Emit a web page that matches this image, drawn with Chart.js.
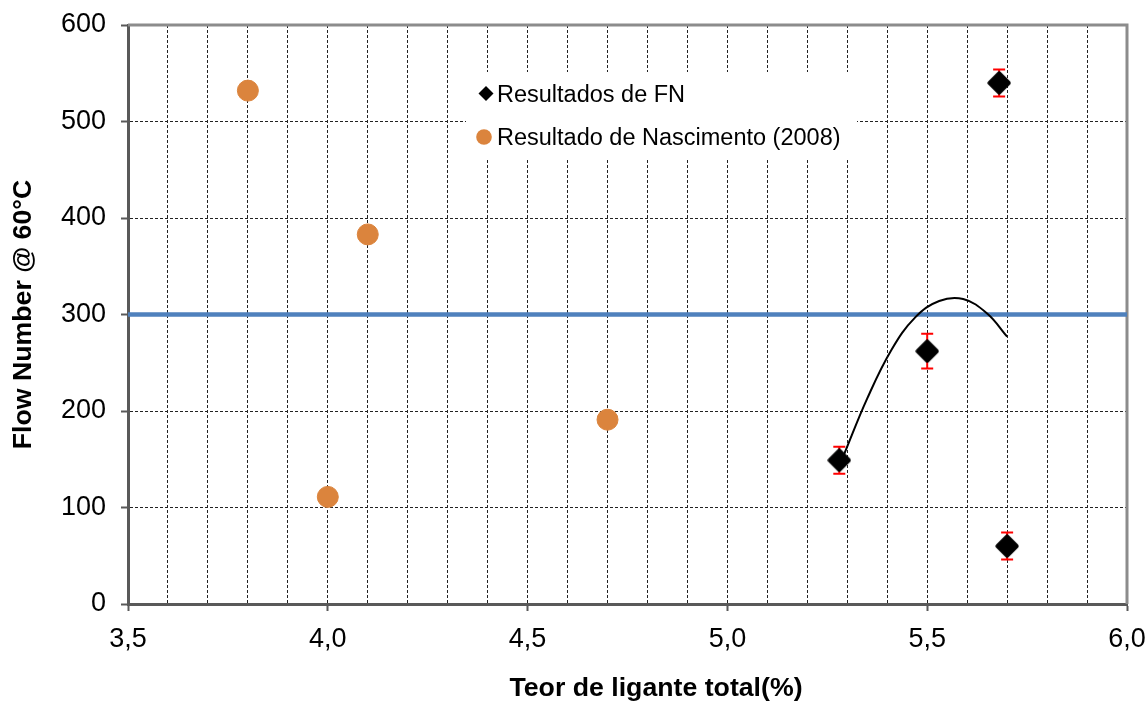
<!DOCTYPE html>
<html>
<head>
  <meta charset="utf-8">
  <title>Flow Number x Teor de ligante</title>
  <script src="https://cdn.jsdelivr.net/npm/chart.js"></script>
  <style>
    body { margin: 0; background: #fff; }
    #wrap { width: 1148px; height: 704px; }
  </style>
</head>
<body>
  <div id="wrap"><canvas id="fnChart" width="1148" height="704"></canvas></div>

  <script>
    // FN results (with error bars)
    const fnX = [5.28, 5.5, 5.68, 5.7];
    const fnY = [149, 262, 540, 60];
    const fnErr = [14, 18, 14, 14];

    // Nascimento (2008)
    const nascX = [3.8, 4.0, 4.1, 4.7];
    const nascY = [532, 111, 383, 191];

    // horizontal reference line at 300
    const limitX = [3.5, 6.0];
    const limitY = [300, 300];

    // trend curve
    const trendX = [5.29, 5.35, 5.41, 5.47, 5.53, 5.59, 5.65, 5.70];
    const trendY = [153, 213, 263, 297, 314, 316, 301, 277];

    const legendLabels = ['Resultados de FN', 'Resultado de Nascimento (2008)'];
    const xTitle = 'Teor de ligante total(%)';
    const yTitle = 'Flow Number @ 60°C';

    const FONT = "'Liberation Sans', Arial, sans-serif";
    const ORANGE = '#db843d';
    const AXIS = '#595959';

    const toPts = (xs, ys) => xs.map((x, i) => ({ x, y: ys[i] }));
    const isHalf = v => Math.abs(v * 2 - Math.round(v * 2)) < 1e-6;

    // rounded black diamond marker
    const diamond = document.createElement('canvas');
    diamond.width = 24; diamond.height = 24;
    (function () {
      const c = diamond.getContext('2d');
      c.fillStyle = '#000'; c.strokeStyle = '#000';
      c.lineWidth = 5; c.lineJoin = 'round';
      c.beginPath();
      c.moveTo(12, 3); c.lineTo(21, 12); c.lineTo(12, 21); c.lineTo(3, 12);
      c.closePath(); c.fill(); c.stroke();
    })();

    // red error bars, drawn under the markers
    const errorBars = {
      id: 'errorBars',
      beforeDatasetsDraw(chart) {
        const { ctx, scales: { x, y } } = chart;
        ctx.save();
        ctx.strokeStyle = '#ff0000';
        ctx.lineWidth = 2;
        fnX.forEach((v, i) => {
          const px = x.getPixelForValue(v);
          const top = y.getPixelForValue(fnY[i] + fnErr[i]);
          const bot = y.getPixelForValue(fnY[i] - fnErr[i]);
          ctx.beginPath();
          ctx.moveTo(px, top); ctx.lineTo(px, bot);
          ctx.moveTo(px - 6, top); ctx.lineTo(px + 6, top);
          ctx.moveTo(px - 6, bot); ctx.lineTo(px + 6, bot);
          ctx.stroke();
        });
        ctx.restore();
      }
    };

    // top/right frame of the plot area + x title
    const frame = {
      id: 'frame',
      beforeDatasetsDraw(chart) {
        const { ctx, chartArea: a } = chart;
        ctx.save();
        ctx.strokeStyle = '#8c8c8c';
        ctx.lineWidth = 3;
        ctx.beginPath();
        ctx.moveTo(a.left, a.top);
        ctx.lineTo(a.right, a.top);
        ctx.lineTo(a.right, a.bottom);
        ctx.stroke();
        ctx.fillStyle = '#000';
        ctx.font = 'bold 26.7px ' + FONT;
        ctx.textAlign = 'center';
        ctx.textBaseline = 'alphabetic';
        ctx.fillText(xTitle, 656, 696);
        ctx.restore();
      }
    };

    // legend box inside the plot
    const innerLegend = {
      id: 'innerLegend',
      afterDatasetsDraw(chart) {
        const { ctx } = chart;
        ctx.save();
        ctx.fillStyle = '#fff';
        ctx.fillRect(466, 72, 391, 88);
        ctx.fillStyle = '#000';
        ctx.beginPath();
        ctx.moveTo(486, 86); ctx.lineTo(493.5, 93.5); ctx.lineTo(486, 101); ctx.lineTo(478.5, 93.5);
        ctx.closePath(); ctx.fill();
        ctx.fillStyle = ORANGE;
        ctx.beginPath();
        ctx.arc(484, 137, 7.8, 0, Math.PI * 2);
        ctx.fill();
        ctx.fillStyle = '#000';
        ctx.font = '23.5px ' + FONT;
        ctx.textBaseline = 'alphabetic';
        ctx.fillText(legendLabels[0], 497, 102);
        ctx.fillText(legendLabels[1], 497, 145);
        ctx.restore();
      }
    };

    new Chart(document.getElementById('fnChart'), {
      data: {
        datasets: [
          {
            type: 'line',
            label: 'limite',
            data: toPts(limitX, limitY),
            borderColor: '#4f81bd',
            borderWidth: 4.5,
            pointRadius: 0,
            order: 4
          },
          {
            type: 'line',
            label: 'tendência',
            data: toPts(trendX, trendY),
            borderColor: '#000',
            borderWidth: 2,
            pointRadius: 0,
            tension: 0.4,
            order: 3
          },
          {
            type: 'scatter',
            label: legendLabels[1],
            data: toPts(nascX, nascY),
            backgroundColor: ORANGE,
            borderColor: ORANGE,
            pointRadius: 10.5,
            pointHoverRadius: 10.5,
            order: 2
          },
          {
            type: 'scatter',
            label: legendLabels[0],
            data: toPts(fnX, fnY),
            pointStyle: diamond,
            pointRadius: 11,
            order: 1
          }
        ]
      },
      options: {
        responsive: false,
        animation: false,
        devicePixelRatio: 1,
        layout: { padding: { left: 0, top: 25, right: 21, bottom: 0 } },
        plugins: {
          legend: { display: false },
          tooltip: { enabled: false }
        },
        scales: {
          x: {
            type: 'linear',
            min: 3.5,
            max: 6.0,
            afterFit(scale) {
              scale.height = 100;
              scale.paddingLeft = 0;
              scale.paddingRight = 0;
            },
            ticks: {
              stepSize: 0.1,
              autoSkip: false,
              maxRotation: 0,
              padding: 12,
              color: '#000',
              font: { family: FONT, size: 27 },
              callback: v => isHalf(v) ? v.toFixed(1).replace('.', ',') : ''
            },
            grid: {
              color: c => (c.index === 0 || c.index === 25) ? 'rgba(0,0,0,0)' : '#222',
              lineWidth: 1,
              tickLength: 7,
              tickWidth: 2,
              tickBorderDash: [],
              tickColor: c => (c.tick && isHalf(c.tick.value)) ? AXIS : 'rgba(0,0,0,0)'
            },
            border: { display: true, color: AXIS, width: 3, dash: [3, 2] },
            title: { display: false }
          },
          y: {
            type: 'linear',
            min: 0,
            max: 600,
            afterFit(scale) {
              scale.width = 128;
              scale.paddingTop = 0;
              scale.paddingBottom = 0;
            },
            ticks: {
              stepSize: 100,
              padding: 15,
              color: '#000',
              font: { family: FONT, size: 27 }
            },
            grid: {
              color: c => (c.index === 0 || c.index === 6) ? 'rgba(0,0,0,0)' : '#222',
              lineWidth: 1,
              tickLength: 7,
              tickWidth: 2,
              tickBorderDash: [],
              tickColor: AXIS
            },
            border: { display: true, color: AXIS, width: 3, dash: [3, 2] },
            title: {
              display: true,
              text: yTitle,
              color: '#000',
              font: { family: FONT, size: 26.7, weight: 'bold' },
              padding: { top: 8, bottom: 0 }
            }
          }
        }
      },
      plugins: [frame, errorBars, innerLegend]
    });
  </script>
</body>
</html>
